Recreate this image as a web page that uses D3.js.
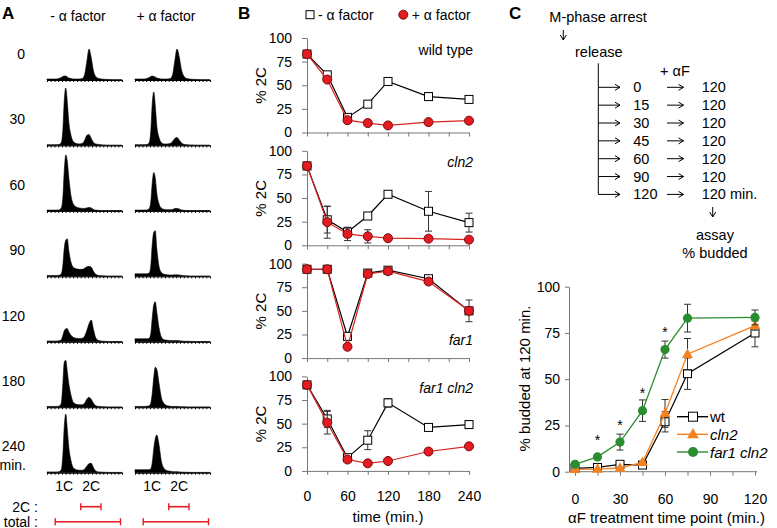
<!DOCTYPE html>
<html><head><meta charset="utf-8">
<script src="https://cdn.jsdelivr.net/npm/d3@7"></script>
<style>body{margin:0;background:#fff}svg{display:block}</style>
</head><body>
<svg id="chart" width="777" height="528"></svg>
<script>
// ---------------- DATA ----------------
// Panel A: DNA-content histograms (channel positions and cell counts)
const histChannels = [0, 6, 12, 16, 19, 21, 23, 25, 27, 29, 32, 35, 39, 43, 47, 50, 53, 56, 59, 62, 65, 69, 75, 83, 91, 100];
const histTimes = ["0", "30", "60", "90", "120", "180", "240"];
const histMinusAF = [
  [1, 1, 1, 1.5, 2.5, 3.5, 4, 4, 3, 2, 1.5, 1, 1, 1, 1.5, 5, 18, 31, 22, 9, 3.5, 1.5, 0.8, 0.5, 0.3, 0.3],
  [0.8, 0.8, 0.8, 1, 3, 14, 45, 57.5, 44, 24, 10, 4, 2, 1.5, 2, 5, 10, 11, 7, 3, 1.5, 1, 0.5, 0.3, 0.3, 0.3],
  [0.8, 0.8, 0.8, 1, 3, 12, 40, 56, 50, 34, 15, 7, 4, 3, 2.5, 2.5, 3, 3.5, 3, 1.5, 0.8, 0.5, 0.3, 0.3, 0.3, 0.3],
  [0.8, 0.8, 0.8, 1, 2.5, 10, 28, 36, 37.5, 26, 14, 9, 7.5, 7, 7, 8, 9.5, 10, 9, 5, 2, 0.8, 0.5, 0.3, 0.3, 0.3],
  [0.8, 0.8, 0.8, 1, 2, 6, 11, 13, 13.3, 10, 6.5, 4.5, 3.5, 3.3, 3.5, 5.5, 11, 18, 21.7, 12, 4, 1.2, 0.6, 0.3, 0.3, 0.3],
  [0.8, 0.8, 0.8, 1, 4, 22, 45, 47, 36, 24, 12, 5, 3, 2.5, 2.5, 4, 8, 10, 8, 4, 1.5, 0.8, 0.5, 0.3, 0.3, 0.3],
  [0.8, 0.8, 0.8, 1, 3, 16, 46, 58.7, 44, 26, 12, 5, 3, 2.5, 2.5, 3.5, 6.5, 9, 9.4, 5, 1.8, 0.8, 0.5, 0.3, 0.3, 0.3]
];
const histPlusAF = [
  [1, 1, 1, 1.5, 2.5, 3.5, 4, 3.5, 3, 2, 1.5, 1, 1, 1, 1.5, 5, 19, 31, 23, 10, 4, 1.5, 0.8, 0.5, 0.3, 0.3],
  [0.8, 0.8, 0.8, 1, 3, 14, 42, 53.5, 40, 20, 8, 3, 1.5, 1.5, 2, 4, 7, 8, 5.5, 2.5, 1.2, 0.8, 0.5, 0.3, 0.3, 0.3],
  [0.8, 0.8, 0.8, 1, 2.5, 9, 28, 38.5, 33, 18, 7, 3, 1.5, 1.2, 1.2, 1.5, 2.3, 2.5, 2, 1, 0.6, 0.4, 0.3, 0.3, 0.3, 0.3],
  [2.5, 2.5, 2.5, 2.5, 3.5, 10, 32, 44, 45.7, 28, 10, 4, 2, 1.5, 1.3, 1.3, 1.5, 1.5, 1.3, 1, 0.7, 0.5, 0.3, 0.3, 0.3, 0.3],
  [3, 3, 3, 3, 3.5, 8, 24, 37, 40, 30, 14, 5, 2, 1.5, 1.2, 1.2, 1.2, 1.2, 1, 0.8, 0.6, 0.5, 0.4, 0.3, 0.3, 0.3],
  [0.8, 0.8, 0.8, 1, 1.5, 4, 14, 30, 40, 38, 24, 10, 3.5, 1.5, 1, 0.8, 0.8, 0.8, 0.6, 0.5, 0.4, 0.3, 0.3, 0.3, 0.3, 0.3],
  [3, 3, 3, 3, 3, 4, 10, 24, 34, 37.7, 28, 12, 4, 2, 1.5, 1.2, 1, 1, 0.8, 0.6, 0.5, 0.4, 0.3, 0.3, 0.3, 0.3]
];
const histPeakLabels = ["1C", "2C"];
const histPeakChannels = [23, 59];
const gate2C = [45, 72];
const gateTotal = [11, 98];

// Panel B: % 2C over time
const timeB = [0, 30, 60, 90, 120, 180, 240];
const strainsB = ["wild type", "cln2", "far1", "far1 cln2"];
const minusAF = [
  [83, 61, 16, 30, 54, 38, 35],
  [84, 27, 14, 31, 54, 36, 24],
  [94, 94, 23, 90, 93, 84, 50],
  [91, 55, 14, 32.5, 72, 46, 49]
];
const minusAFErr = [
  [0, 0, 0, 0, 0, 4, 0],
  [0, 14, 5, 0, 0, 21, 10],
  [0, 0, 0, 0, 0, 0, 11.5],
  [0, 9, 0, 10, 4.5, 0, 4]
];
const plusAF = [
  [83, 56, 13, 10, 7.5, 11, 12.5],
  [84, 24.5, 12, 9.5, 7.5, 7, 6],
  [94, 94, 12, 89, 92, 81, 50],
  [91, 51, 12, 8, 10.5, 20.5, 26]
];
const plusAFErr = [
  [0, 0, 0, 0, 0, 0, 0],
  [0, 17, 7, 7, 0, 0, 0],
  [0, 0, 0, 0, 0, 0, 0],
  [0, 12, 0, 0, 0, 0, 0]
];
const yTicksB = [0, 25, 50, 75, 100];
const xTicksB = [0, 30, 60, 90, 120, 150, 180, 210, 240];
const xLabelsB = [0, 60, 120, 180, 240];

// Panel C schematic
const scheduleStarts = ["0", "15", "30", "45", "60", "90", "120"];
const scheduleEnd = "120";

// Panel C chart: % budded at 120 min
const timeC = [0, 15, 30, 45, 60, 75, 120];
const seriesC = ["wt", "cln2", "far1 cln2"];
const wtC = [1.8, 2.3, 4, 3.6, 27, 53, 75];
const wtCErr = [0, 0, 0, 0, 5.5, 8.5, 7.5];
const cln2C = [1.3, 1.4, 2, 5, 31.5, 63.5, 79];
const cln2CErr = [0, 0, 0, 0, 7.5, 8.5, 2.5];
const far1cln2C = [4, 8, 16, 33, 66, 83, 83.4];
const far1cln2CErr = [0, 0, 4.3, 5.8, 4.6, 7.5, 4];
const starTimes = [15, 30, 45, 60];
const starLevels = [19.5, 27.5, 44.5, 77.5];
const yTicksC = [0, 25, 50, 75, 100];
const xTicksC = [0, 15, 30, 45, 60, 75, 90, 105, 120];
const xLabelsC = [0, 30, 60, 90, 120];

// ---------------- DRAWING ----------------
const FONT = '"Liberation Sans", Arial, Helvetica, sans-serif';
const svg = d3.select("#chart");
const AXC = "#777";
const RED = "#e31b23", RED_STROKE = "#7d0a0a", RED_LINE = "#d9231d";
const ORANGE = "#f58220", GREEN = "#2a8d2f";

function text(x, y, s, o = {}) {
  const t = svg.append("text").attr("x", x).attr("y", y).text(s)
    .style("font-family", FONT).style("font-size", (o.size || 14) + "px")
    .attr("text-anchor", o.anchor || "start").attr("fill", o.fill || "#000");
  if (o.bold) t.style("font-weight", "bold");
  if (o.italic) t.style("font-style", "italic");
  if (o.rotate) t.attr("transform", `rotate(-90,${x},${y})`);
  return t;
}
function styleAxis(g, color, size) {
  g.attr("font-family", null).attr("font-size", null);
  g.selectAll("path, line").attr("stroke", color);
  g.selectAll("text").style("font-family", FONT).style("font-size", (size || 14) + "px").attr("fill", "#000");
}

// ===== Panel A =====
text(2, 19, "A", { size: 17, bold: true });
const xA = [d3.scaleLinear().domain([0, 100]).range([47, 122]),
            d3.scaleLinear().domain([0, 100]).range([135, 210])];
const yH = d3.scaleLinear().domain([0, 60]).range([0, 60]);
text(78, 20.5, "- α factor", { anchor: "middle" });
text(166, 20.5, "+ α factor", { anchor: "middle" });
const baseA = histTimes.map((t, i) => 80 + i * 65.45);
[histMinusAF, histPlusAF].forEach((set, c) => {
  set.forEach((counts, r) => {
    const base = baseA[r];
    const area = d3.area()
      .x((d, i) => xA[c](histChannels[i]))
      .y0(base).y1(d => base - yH(d))
      .curve(d3.curveMonotoneX);
    svg.append("path").datum(counts).attr("d", area).attr("fill", "#000").attr("stroke", "#000").attr("stroke-width", 0.6);
    const ax = svg.append("g").attr("transform", `translate(0,${base})`)
      .call(d3.axisBottom(xA[c]).tickValues(d3.range(0, 101, 5)).tickSize(2).tickSizeOuter(0).tickFormat(""));
    styleAxis(ax, "#000");
    ax.select("path").attr("stroke-width", 1);
  });
  histPeakLabels.forEach((lab, k) => text(xA[c](histPeakChannels[k]), 491, lab, { anchor: "middle" }));
  // gates
  [[gate2C, 506.7], [gateTotal, 521.7]].forEach(([gt, y]) => {
    const x1 = xA[c](gt[0]), x2 = xA[c](gt[1]);
    svg.append("line").attr("x1", x1).attr("x2", x2).attr("y1", y).attr("y2", y).attr("stroke", RED).attr("stroke-width", 1.6);
    [x1, x2].forEach(x => svg.append("line").attr("x1", x).attr("x2", x).attr("y1", y - 3.5).attr("y2", y + 3.5).attr("stroke", RED).attr("stroke-width", 1.4));
  });
});
histTimes.forEach((t, i) => text(25, 53.7 + i * 65.45 + 5, t, { anchor: "end" }));
text(26, 470, "min.", { anchor: "end" });
text(38, 511.7, "2C :", { anchor: "end" });
text(38, 526.5, "total :", { anchor: "end" });

// ===== Panel B =====
text(238, 19, "B", { size: 17, bold: true });
// legend
svg.append("rect").attr("x", 306).attr("y", 10.7).attr("width", 8).attr("height", 8).attr("fill", "#fff").attr("stroke", "#000");
text(318, 20, "- α factor");
svg.append("circle").attr("cx", 403.3).attr("cy", 14.7).attr("r", 4.5).attr("fill", RED).attr("stroke", RED_STROKE);
text(411.7, 20, "+ α factor");

const xB = d3.scaleLinear().domain([0, 240]).range([307, 469]);
function errBars(g, xs, ys, xv, v, e, color) {
  const idx = v.map((d, i) => i).filter(i => e[i] > 0);
  const eg = g.append("g").attr("stroke", color).attr("stroke-width", 1);
  eg.selectAll("line.v").data(idx).join("line").attr("class", "v")
    .attr("x1", i => xs(xv[i])).attr("x2", i => xs(xv[i]))
    .attr("y1", i => ys(v[i] + e[i])).attr("y2", i => ys(v[i] - e[i]));
  [1, -1].forEach(sg => {
    eg.selectAll("line.c" + (sg > 0 ? "t" : "b")).data(idx).join("line").attr("class", "c" + (sg > 0 ? "t" : "b"))
      .attr("x1", i => xs(xv[i]) - 3.5).attr("x2", i => xs(xv[i]) + 3.5)
      .attr("y1", i => ys(v[i] + sg * e[i])).attr("y2", i => ys(v[i] + sg * e[i]));
  });
}
strainsB.forEach((s, p) => {
  const y0 = 132.5 + p * 112.8;
  const yB = d3.scaleLinear().domain([0, 100]).range([y0, y0 - 94.5]);
  const g = svg.append("g");
  const ya = g.append("g").attr("transform", "translate(307,0)")
    .call(d3.axisLeft(yB).tickValues(yTicksB).tickSize(5).tickSizeOuter(0).tickPadding(10));
  styleAxis(ya, AXC);
  const xa = g.append("g").attr("transform", `translate(0,${y0})`)
    .call(d3.axisBottom(xB).tickValues(xTicksB).tickSize(4).tickSizeOuter(0).tickPadding(16)
      .tickFormat(d => (p === 3 && xLabelsB.includes(d)) ? d : ""));
  styleAxis(xa, AXC);
  text(-y0 + 47, 0, "", {});
  text(266, y0 - 47, "% 2C", { anchor: "middle", rotate: true, size: 15 });

  const line = d3.line().x((d, i) => xB(timeB[i])).y(d => yB(d));
  // minus alpha factor
  errBars(g, xB, yB, timeB, minusAF[p], minusAFErr[p], "#333");
  g.append("path").datum(minusAF[p]).attr("d", line).attr("fill", "none").attr("stroke", "#000").attr("stroke-width", 1.2);
  g.selectAll("rect.m").data(minusAF[p]).join("rect").attr("class", "m")
    .attr("x", (d, i) => xB(timeB[i]) - 4).attr("y", d => yB(d) - 4).attr("width", 8).attr("height", 8)
    .attr("fill", "#fff").attr("stroke", "#000");
  // plus alpha factor
  errBars(g, xB, yB, timeB, plusAF[p], plusAFErr[p], "#333");
  g.append("path").datum(plusAF[p]).attr("d", line).attr("fill", "none").attr("stroke", RED_LINE).attr("stroke-width", 1.2);
  g.selectAll("circle.p").data(plusAF[p]).join("circle").attr("class", "p")
    .attr("cx", (d, i) => xB(timeB[i])).attr("cy", d => yB(d)).attr("r", 4.5)
    .attr("fill", RED).attr("stroke", RED_STROKE);

  const italic = s !== "wild type";
  const ly = (s === "far1") ? y0 - 13 : y0 - 94.5 + 16.5;
  text(473, ly, s, { anchor: "end", italic: italic });
});
text(388, 521.5, "time (min.)", { anchor: "middle", size: 15 });

// ===== Panel C schematic =====
text(509, 19, "C", { size: 17, bold: true });
function arrowRight(x1, x2, y) {
  svg.append("path").attr("d", `M${x1},${y}H${x2}M${x2 - 5},${y - 3}L${x2},${y}L${x2 - 5},${y + 3}`)
    .attr("fill", "none").attr("stroke", "#000").attr("stroke-width", 1);
}
function arrowDown(x, y1, y2) {
  svg.append("path").attr("d", `M${x},${y1}V${y2}M${x - 3},${y2 - 5}L${x},${y2}L${x + 3},${y2 - 5}`)
    .attr("fill", "none").attr("stroke", "#000").attr("stroke-width", 1);
}
text(549.3, 21.5, "M-phase arrest", { size: 14.5 });
arrowDown(563.3, 30, 40);
text(575, 56.5, "release", { size: 14.5 });
text(660, 76, "+ αF", { size: 14.5 });
const rowY = scheduleStarts.map((d, i) => 87.3 + i * 17.85);
svg.append("path").attr("d", `M598.3,63.3V${rowY[rowY.length - 1]}`).attr("stroke", "#000").attr("fill", "none");
scheduleStarts.forEach((s, i) => {
  arrowRight(598.3, 620, rowY[i]);
  text(633.3, rowY[i] + 5, s, { size: 14.5 });
  arrowRight(667, 683.5, rowY[i]);
  text(701.7, rowY[i] + 5, i === scheduleStarts.length - 1 ? scheduleEnd + " min." : scheduleEnd, { size: 14.5 });
});
arrowDown(712.7, 207, 217);
text(715, 240, "assay", { anchor: "middle", size: 14.5 });
text(715, 257.5, "% budded", { anchor: "middle", size: 14.5 });

// ===== Panel C chart =====
const xC = d3.scaleLinear().domain([0, 120]).range([575, 755]);
const yC = d3.scaleLinear().domain([0, 100]).range([471.7, 286.7]);
const gc = svg.append("g");
const yca = gc.append("g").attr("transform", "translate(569,0)")
  .call(d3.axisLeft(yC).tickValues(yTicksC).tickSize(4).tickSizeOuter(0).tickPadding(5));
styleAxis(yca, AXC);
const xca = gc.append("g").attr("transform", "translate(0,471.7)")
  .call(d3.axisBottom(xC).tickValues(xTicksC).tickSize(4).tickSizeOuter(0).tickPadding(18)
    .tickFormat(d => xLabelsC.includes(d) ? d : ""));
styleAxis(xca, AXC);
xca.select("path").attr("d", "M569,0H757");
text(530, 378.5, "% budded at 120 min.", { anchor: "middle", rotate: true, size: 15 });
text(666.5, 523, "αF treatment time point (min.)", { anchor: "middle", size: 15 });

const lineC = d3.line().x((d, i) => xC(timeC[i])).y(d => yC(d));
// wt
errBars(gc, xC, yC, timeC, wtC, wtCErr, "#333");
gc.append("path").datum(wtC).attr("d", lineC).attr("fill", "none").attr("stroke", "#000").attr("stroke-width", 1.2);
gc.selectAll("rect.wt").data(wtC).join("rect").attr("class", "wt")
  .attr("x", (d, i) => xC(timeC[i]) - 4).attr("y", d => yC(d) - 4).attr("width", 8).attr("height", 8)
  .attr("fill", "#fff").attr("stroke", "#000");
// cln2
errBars(gc, xC, yC, timeC, cln2C, cln2CErr, "#333");
gc.append("path").datum(cln2C).attr("d", lineC).attr("fill", "none").attr("stroke", ORANGE).attr("stroke-width", 1.3);
const tri = d3.symbol().type(d3.symbolTriangle).size(52);
gc.selectAll("path.tri").data(cln2C).join("path").attr("class", "tri")
  .attr("d", tri).attr("transform", (d, i) => `translate(${xC(timeC[i])},${yC(d) + 0.5})`).attr("fill", ORANGE);
// far1 cln2
errBars(gc, xC, yC, timeC, far1cln2C, far1cln2CErr, "#333");
gc.append("path").datum(far1cln2C).attr("d", lineC).attr("fill", "none").attr("stroke", GREEN).attr("stroke-width", 1.3);
gc.selectAll("circle.f").data(far1cln2C).join("circle").attr("class", "f")
  .attr("cx", (d, i) => xC(timeC[i])).attr("cy", d => yC(d)).attr("r", 4.6).attr("fill", GREEN);
// stars
gc.selectAll("text.star").data(starTimes).join("text").attr("class", "star")
  .attr("x", d => xC(d)).attr("y", (d, i) => yC(starLevels[i]) + 9)
  .attr("text-anchor", "middle").style("font-family", FONT).style("font-size", "14px").text("*");

// legend
const legY = [416.7, 434.3, 452];
const legCol = ["#000", ORANGE, GREEN];
seriesC.forEach((s, i) => {
  gc.append("line").attr("x1", 677).attr("x2", 708).attr("y1", legY[i]).attr("y2", legY[i]).attr("stroke", legCol[i]).attr("stroke-width", 1.4);
  if (i === 0) gc.append("rect").attr("x", 688.5).attr("y", legY[i] - 4.5).attr("width", 9).attr("height", 9).attr("fill", "#fff").attr("stroke", "#000");
  if (i === 1) gc.append("path").attr("d", d3.symbol().type(d3.symbolTriangle).size(60)).attr("transform", `translate(693,${legY[i] + 0.5})`).attr("fill", ORANGE);
  if (i === 2) gc.append("circle").attr("cx", 693).attr("cy", legY[i]).attr("r", 5).attr("fill", GREEN);
  text(710, legY[i] + 5.5, s, { italic: i > 0, size: 15 });
});
</script>
</body></html>
